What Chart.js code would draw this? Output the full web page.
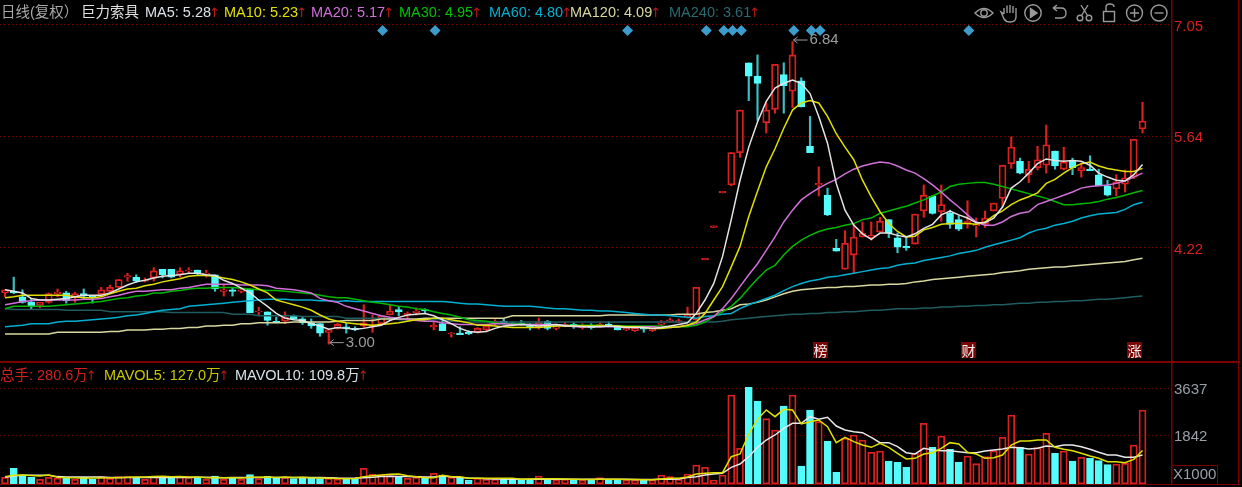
<!DOCTYPE html>
<html>
<head>
<meta charset="utf-8">
<script src="https://cdn.jsdelivr.net/npm/chart.js@4"></script>
<style>
  html, body { margin: 0; padding: 0; background: #000; }
  #wrap { position: relative; width: 1242px; height: 487px; overflow: hidden; background: #000; }
  canvas { position: absolute; left: 0; top: 0; }
  .t { position: absolute; white-space: nowrap; font: 14.5px/18px "Liberation Sans", "Noto Sans CJK SC", sans-serif; }
  .t i { font: 13px/18px "DejaVu Sans"; color: #c01818; margin-left: -2px; }
  .tag { position: absolute; top: 342px; width: 15px; height: 16px; background: #7a0606; color: #eee; text-align: center; font: 14px/16px "Noto Sans CJK SC", sans-serif; }
  .rule { position: absolute; background: #7c0000; }
  #tools { position: absolute; left: 970px; top: 2px; }
</style>
</head>
<body>
<div id="wrap">
  <canvas id="kline" width="1242" height="487"></canvas>

  <div class="rule" style="left:0;top:361px;width:1240px;height:2px"></div>
  <div class="rule" style="left:0;top:484px;width:1240px;height:1px"></div>
  <div class="rule" style="left:1238px;top:0;width:1px;height:485px"></div>

  <span class="t" style="left:1px;top:3px;color:#a8a8a8">日线(复权）</span>
  <span class="t" style="left:81px;top:3px;color:#e0e0e0">巨力索具</span>
  <span class="t" style="left:145px;top:3px;color:#d8e0e8">MA5: 5.28<i>↑</i></span>
  <span class="t" style="left:224px;top:3px;color:#e0e000">MA10: 5.23<i>↑</i></span>
  <span class="t" style="left:311px;top:3px;color:#d070d8">MA20: 5.17<i>↑</i></span>
  <span class="t" style="left:399px;top:3px;color:#00c000">MA30: 4.95<i>↑</i></span>
  <span class="t" style="left:489px;top:3px;color:#00b0d0">MA60: 4.80<i>↑</i></span>
  <span class="t" style="left:570px;top:3px;color:#d8d8a0">MA120: 4.09<i>↑</i></span>
  <span class="t" style="left:669px;top:3px;color:#2a6a70">MA240: 3.61<i>↑</i></span>

  <span class="t" style="left:0;top:366px;color:#d02020">总手: 280.6万<i>↑</i></span>
  <span class="t" style="left:104px;top:366px;color:#c8c800">MAVOL5: 127.0万<i>↑</i></span>
  <span class="t" style="left:235px;top:366px;color:#d8e0e8">MAVOL10: 109.8万<i>↑</i></span>

  <span class="tag" style="left:813px">榜</span>
  <span class="tag" style="left:961px">财</span>
  <span class="tag" style="left:1127px">涨</span>

  <div style="position:absolute;left:1172px;top:465px;width:45px;height:18px;border:1px solid #7c0000;border-left:0"></div>
  <span class="t" style="left:1173px;top:465px;color:#98a0a8;font-size:15px">X1000</span>

  <svg id="tools" width="200" height="24" fill="none" stroke="#9a9a9a" stroke-width="1.4">
    <!-- eye -->
    <path d="M5 11 Q14 2 23 11 Q14 20 5 11Z"/><circle cx="14" cy="11" r="3.2"/>
    <!-- hand -->
    <path d="M34 12 V6 M37 11 V3.5 M40 11 V3 M43 11 V4 M46 12 V6 M34 12 L31 10 L34 17 Q36 20 40 20 Q46 20 46 15 V12"/>
    <!-- play -->
    <circle cx="63" cy="11" r="8.2"/><path d="M60.5 6.5 L67 11 L60.5 15.5Z" fill="#9a9a9a"/>
    <!-- back -->
    <path d="M83 6 L87 3 M83 6 L87 9 M83 6 H91 Q96 6 96 11 Q96 16 91 16 H85"/>
    <!-- scissors -->
    <circle cx="110" cy="16" r="2.8"/><circle cx="119" cy="16" r="2.8"/><path d="M111.5 13.5 L118 3 M117.5 13.5 L111 3"/>
    <!-- lock -->
    <rect x="133.5" y="9.5" width="11" height="10"/><path d="M136 9 V5 Q136 2 140 2 Q144 2 144 5"/>
    <!-- plus -->
    <circle cx="164.5" cy="11" r="8"/><path d="M160 11 H169 M164.5 6.5 V15.5"/>
    <!-- minus -->
    <circle cx="189" cy="11" r="8"/><path d="M184.5 11 H193.5"/>
  </svg>
</div>

<script>
// trading days, counted from the left edge of the window
var days = [];
for (var d = 0; d < 131; d++) days.push(d);

var opens = [
  3.65,3.67,3.60,3.53,3.49,3.53,3.64,3.65,3.59,3.64,
  3.61,3.63,3.67,3.72,3.85,3.85,3.80,3.84,3.95,3.95,
  3.88,3.93,3.94,3.89,3.88,3.67,3.69,3.67,3.70,3.41,
  3.41,3.29,3.29,3.36,3.32,3.27,3.26,3.15,3.20,3.22,
  3.20,3.23,3.22,3.26,3.37,3.44,3.37,3.40,3.44,3.22,
  3.26,3.13,3.14,3.15,3.15,3.18,3.26,3.29,3.27,3.27,
  3.23,3.21,3.29,3.20,3.23,3.25,3.21,3.23,3.23,3.25,
  3.24,3.18,3.17,3.21,3.17,3.25,3.29,3.28,3.34,3.31,
  4.07,4.48,4.92,5.02,5.43,6.57,6.40,5.81,5.98,6.42,
  6.21,6.34,5.51,5.02,4.89,4.22,3.95,4.13,4.36,4.35,
  4.42,4.58,4.35,4.24,4.27,4.69,4.88,4.68,4.66,4.58,
  4.54,4.50,4.52,4.69,4.85,5.29,5.32,5.15,5.24,5.27,
  5.45,5.22,5.32,5.20,5.22,5.15,5.01,4.97,5.03,5.12,
  5.73
];
var closes = [
  3.69,3.65,3.53,3.48,3.53,3.64,3.66,3.55,3.64,3.61,
  3.59,3.69,3.72,3.82,3.87,3.80,3.81,3.93,3.88,3.85,
  3.93,3.94,3.89,3.90,3.70,3.69,3.67,3.69,3.40,3.42,
  3.30,3.27,3.34,3.32,3.27,3.23,3.14,3.18,3.25,3.20,
  3.18,3.27,3.24,3.36,3.42,3.41,3.39,3.42,3.42,3.24,
  3.17,3.14,3.12,3.13,3.20,3.23,3.29,3.27,3.24,3.25,
  3.22,3.28,3.20,3.22,3.25,3.23,3.23,3.21,3.25,3.23,
  3.18,3.20,3.20,3.19,3.20,3.27,3.31,3.30,3.37,3.72,
  4.09,4.50,4.94,5.43,5.97,6.40,6.31,5.97,6.55,6.28,
  6.67,6.01,5.43,5.04,4.64,4.18,4.28,4.36,4.41,4.38,
  4.56,4.41,4.23,4.22,4.65,4.89,4.66,4.77,4.52,4.46,
  4.56,4.52,4.60,4.79,5.27,5.50,5.17,5.22,5.34,5.53,
  5.26,5.31,5.24,5.24,5.20,5.01,4.89,5.06,5.11,5.60,
  5.83
];
var highs = [
  3.69,3.85,3.69,3.58,3.53,3.65,3.70,3.67,3.66,3.70,
  3.61,3.72,3.75,3.82,3.90,3.88,3.84,3.97,3.95,3.95,
  3.97,3.97,3.94,3.94,3.88,3.75,3.72,3.71,3.70,3.47,
  3.41,3.34,3.41,3.37,3.34,3.32,3.26,3.18,3.27,3.27,
  3.22,3.50,3.37,3.36,3.50,3.47,3.41,3.46,3.45,3.28,
  3.30,3.15,3.22,3.17,3.21,3.23,3.31,3.32,3.28,3.30,
  3.26,3.33,3.30,3.24,3.28,3.27,3.26,3.26,3.27,3.28,
  3.24,3.23,3.21,3.22,3.21,3.30,3.33,3.32,3.47,3.72,
  4.09,4.50,4.94,5.43,5.97,6.57,6.67,6.06,6.55,6.57,
  6.84,6.38,5.89,5.25,4.98,4.33,4.44,4.52,4.55,4.55,
  4.61,4.58,4.41,4.37,4.65,5.02,4.88,5.02,4.70,4.63,
  4.82,4.60,4.69,4.79,5.27,5.63,5.36,5.32,5.51,5.78,
  5.45,5.50,5.36,5.30,5.39,5.22,5.08,5.15,5.21,5.60,
  6.07
];
var lows = [
  3.60,3.64,3.52,3.44,3.46,3.52,3.60,3.52,3.53,3.58,
  3.52,3.60,3.65,3.72,3.80,3.78,3.79,3.80,3.84,3.84,
  3.85,3.90,3.88,3.85,3.67,3.61,3.61,3.65,3.40,3.36,
  3.24,3.27,3.26,3.31,3.25,3.20,3.10,3.00,3.19,3.14,
  3.17,3.21,3.15,3.26,3.37,3.36,3.33,3.37,3.40,3.18,
  3.17,3.09,3.12,3.12,3.14,3.17,3.24,3.26,3.23,3.24,
  3.18,3.19,3.18,3.18,3.22,3.20,3.19,3.19,3.22,3.22,
  3.18,3.17,3.16,3.15,3.16,3.23,3.28,3.27,3.33,3.30,
  4.07,4.48,4.92,5.01,5.37,6.09,5.84,5.68,5.93,5.93,
  6.00,6.01,5.43,4.88,4.63,4.18,3.95,3.90,4.36,4.32,
  4.42,4.35,4.16,4.19,4.27,4.61,4.65,4.56,4.47,4.44,
  4.47,4.36,4.48,4.69,4.74,5.23,5.16,5.05,5.21,5.17,
  5.22,5.21,5.15,5.12,5.20,5.01,4.88,4.88,4.93,5.10,
  5.68
];

var ma5 = [
  3.69,3.67,3.65,3.58,3.56,3.56,3.57,3.58,3.60,3.62,
  3.62,3.62,3.65,3.70,3.75,3.79,3.81,3.84,3.86,3.87,
  3.88,3.90,3.90,3.88,3.87,3.81,3.77,3.71,3.65,3.56,
  3.48,3.39,3.33,3.31,3.30,3.26,3.23,3.19,3.21,3.20,
  3.19,3.20,3.22,3.24,3.30,3.34,3.37,3.38,3.39,3.36,
  3.31,3.26,3.20,3.16,3.15,3.16,3.20,3.23,3.24,3.25,
  3.24,3.23,3.24,3.25,3.23,3.23,3.22,3.22,3.22,3.23,
  3.22,3.21,3.21,3.21,3.20,3.21,3.23,3.25,3.27,3.39,
  3.56,3.77,4.11,4.58,5.08,5.50,5.82,6.08,6.25,6.31,
  6.35,6.31,6.18,5.89,5.55,5.04,4.70,4.51,4.40,4.33,
  4.41,4.41,4.38,4.36,4.40,4.47,4.52,4.64,4.69,4.64,
  4.60,4.54,4.54,4.60,4.74,4.98,5.06,5.17,5.29,5.35,
  5.33,5.32,5.33,5.32,5.27,5.17,5.12,5.08,5.07,5.15,
  5.28
];
var ma10 = [
  3.59,3.60,3.62,3.62,3.62,3.62,3.62,3.62,3.60,3.59,
  3.59,3.60,3.64,3.67,3.70,3.71,3.74,3.76,3.79,3.81,
  3.83,3.86,3.87,3.87,3.86,3.84,3.82,3.79,3.75,3.70,
  3.65,3.56,3.53,3.50,3.47,3.43,3.37,3.32,3.29,3.27,
  3.26,3.25,3.24,3.25,3.26,3.27,3.29,3.31,3.31,3.33,
  3.33,3.31,3.29,3.27,3.24,3.24,3.23,3.22,3.21,3.21,
  3.21,3.21,3.22,3.23,3.23,3.23,3.23,3.23,3.23,3.23,
  3.23,3.22,3.22,3.21,3.20,3.20,3.21,3.22,3.24,3.28,
  3.39,3.56,3.73,3.98,4.24,4.62,4.94,5.25,5.48,5.74,
  5.97,6.06,6.09,6.06,5.89,5.67,5.50,5.34,5.08,4.87,
  4.68,4.53,4.43,4.36,4.37,4.45,4.48,4.52,4.53,4.53,
  4.53,4.52,4.55,4.63,4.69,4.77,4.83,4.87,4.92,5.04,
  5.09,5.17,5.24,5.29,5.31,5.26,5.23,5.21,5.19,5.19,
  5.23
];
var ma20 = [
  3.50,3.52,3.54,3.55,3.56,3.56,3.56,3.56,3.56,3.57,
  3.57,3.58,3.60,3.62,3.65,3.67,3.67,3.68,3.69,3.69,
  3.71,3.72,3.74,3.76,3.76,3.76,3.76,3.75,3.75,3.75,
  3.74,3.71,3.70,3.69,3.67,3.65,3.58,3.55,3.53,3.48,
  3.45,3.42,3.39,3.36,3.34,3.33,3.31,3.30,3.29,3.29,
  3.27,3.26,3.25,3.25,3.25,3.25,3.26,3.26,3.25,3.25,
  3.25,3.25,3.25,3.25,3.24,3.22,3.22,3.22,3.22,3.22,
  3.22,3.22,3.22,3.22,3.22,3.21,3.21,3.22,3.24,3.26,
  3.31,3.35,3.45,3.58,3.73,3.88,4.02,4.19,4.36,4.55,
  4.70,4.83,4.91,4.98,5.04,5.09,5.16,5.22,5.26,5.29,
  5.31,5.30,5.26,5.21,5.17,5.10,5.02,4.93,4.83,4.74,
  4.64,4.55,4.51,4.51,4.55,4.62,4.66,4.68,4.77,4.81,
  4.85,4.89,4.93,4.98,5.00,5.01,5.02,5.04,5.07,5.12,
  5.17
];
var ma30 = [
  3.45,3.48,3.48,3.48,3.48,3.48,3.49,3.50,3.51,3.52,
  3.53,3.54,3.56,3.58,3.59,3.61,3.62,3.65,3.65,3.67,
  3.68,3.70,3.71,3.71,3.72,3.72,3.72,3.71,3.70,3.69,
  3.68,3.68,3.67,3.66,3.65,3.64,3.62,3.60,3.59,3.59,
  3.57,3.55,3.53,3.52,3.50,3.48,3.47,3.45,3.44,3.41,
  3.39,3.37,3.34,3.31,3.30,3.29,3.27,3.26,3.26,3.26,
  3.25,3.25,3.25,3.24,3.24,3.24,3.24,3.24,3.24,3.23,
  3.23,3.23,3.23,3.23,3.23,3.23,3.22,3.22,3.22,3.24,
  3.28,3.35,3.41,3.48,3.58,3.71,3.83,3.94,4.00,4.13,
  4.24,4.32,4.38,4.43,4.46,4.48,4.51,4.53,4.58,4.60,
  4.66,4.69,4.72,4.75,4.79,4.83,4.88,4.93,5.00,5.03,
  5.04,5.05,5.05,5.03,5.00,4.97,4.94,4.91,4.88,4.85,
  4.81,4.77,4.77,4.78,4.79,4.81,4.84,4.86,4.89,4.92,
  4.95
];
var ma60 = [
  3.22,3.23,3.24,3.26,3.26,3.26,3.28,3.29,3.29,3.30,
  3.31,3.32,3.33,3.34,3.36,3.37,3.39,3.41,3.43,3.44,
  3.45,3.48,3.49,3.50,3.51,3.52,3.53,3.54,3.55,3.56,
  3.57,3.57,3.57,3.56,3.56,3.56,3.55,3.55,3.54,3.55,
  3.54,3.54,3.54,3.54,3.54,3.54,3.54,3.54,3.54,3.54,
  3.54,3.53,3.52,3.51,3.51,3.50,3.49,3.48,3.48,3.48,
  3.48,3.47,3.46,3.45,3.45,3.44,3.43,3.43,3.42,3.42,
  3.41,3.40,3.39,3.38,3.37,3.37,3.36,3.35,3.34,3.33,
  3.35,3.36,3.38,3.39,3.45,3.50,3.54,3.58,3.62,3.68,
  3.73,3.77,3.80,3.82,3.85,3.86,3.88,3.90,3.92,3.94,
  3.96,3.97,4.00,4.02,4.03,4.06,4.08,4.10,4.12,4.15,
  4.17,4.19,4.23,4.26,4.29,4.32,4.35,4.41,4.45,4.47,
  4.51,4.53,4.56,4.60,4.63,4.65,4.66,4.67,4.71,4.77,
  4.80
];
var ma120 = [
  3.13,3.13,3.13,3.13,3.13,3.13,3.15,3.15,3.15,3.15,
  3.15,3.15,3.16,3.16,3.18,3.18,3.18,3.19,3.19,3.20,
  3.20,3.21,3.21,3.23,3.23,3.24,3.24,3.26,3.26,3.27,
  3.27,3.27,3.27,3.28,3.28,3.28,3.28,3.28,3.29,3.30,
  3.30,3.30,3.30,3.32,3.32,3.32,3.32,3.32,3.33,3.33,
  3.33,3.33,3.33,3.33,3.33,3.33,3.33,3.33,3.36,3.36,
  3.36,3.36,3.36,3.36,3.36,3.36,3.36,3.36,3.36,3.37,
  3.37,3.37,3.37,3.37,3.37,3.37,3.37,3.38,3.38,3.38,
  3.40,3.41,3.43,3.45,3.50,3.51,3.53,3.56,3.60,3.64,
  3.67,3.69,3.70,3.71,3.72,3.72,3.73,3.73,3.74,3.75,
  3.75,3.76,3.76,3.77,3.79,3.80,3.82,3.83,3.84,3.85,
  3.86,3.87,3.88,3.89,3.91,3.92,3.93,3.95,3.96,3.97,
  3.98,3.98,3.99,4.00,4.01,4.02,4.03,4.04,4.05,4.07,
  4.09
];
var ma240 = [
  3.45,3.44,3.44,3.44,3.44,3.44,3.44,3.43,3.43,3.43,
  3.43,3.43,3.41,3.41,3.41,3.41,3.41,3.41,3.41,3.40,
  3.40,3.40,3.40,3.40,3.40,3.40,3.38,3.38,3.38,3.36,
  3.36,3.36,3.36,3.36,3.35,3.35,3.35,3.35,3.35,3.33,
  3.33,3.33,3.33,3.33,3.33,3.31,3.31,3.31,3.31,3.31,
  3.31,3.29,3.29,3.28,3.28,3.28,3.28,3.28,3.28,3.28,
  3.28,3.28,3.28,3.28,3.28,3.28,3.28,3.28,3.28,3.28,
  3.28,3.28,3.28,3.28,3.28,3.28,3.28,3.28,3.28,3.28,
  3.28,3.28,3.29,3.31,3.32,3.33,3.34,3.35,3.36,3.37,
  3.38,3.38,3.39,3.39,3.40,3.40,3.41,3.41,3.42,3.43,
  3.43,3.44,3.45,3.45,3.45,3.46,3.46,3.47,3.47,3.48,
  3.48,3.49,3.49,3.50,3.50,3.51,3.52,3.52,3.53,3.53,
  3.54,3.54,3.55,3.55,3.56,3.57,3.57,3.58,3.59,3.60,
  3.61
];

// volume in X1000 lots
var vols = [
  253,595,342,253,177,253,228,228,177,253,
  177,278,215,278,278,253,177,304,253,240,
  278,253,253,177,304,177,228,177,354,202,
  291,228,253,202,228,240,202,215,190,190,
  190,595,380,342,316,253,215,253,215,405,
  342,253,215,152,215,177,177,177,177,177,
  177,304,177,152,177,152,152,177,240,177,
  177,152,152,177,152,342,278,177,380,721,
  632,152,341,3378,1354,3668,3150,2479,2049,2960,
  3378,683,2808,2366,1632,443,1733,1860,1670,1202,
  1252,873,822,632,1164,2302,1392,1822,1316,822,
  1063,772,1037,1265,1771,2619,1392,1139,1379,1923,
  1164,1252,873,1012,974,886,734,759,784,1480,
  2806
];
var mavol5 = [
  280,330,340,320,300,342,260,240,240,220,
  230,230,235,240,255,270,265,280,290,278,
  280,265,270,240,250,240,240,230,260,255,
  270,250,262,250,260,240,230,215,205,200,
  205,280,310,345,370,380,316,278,240,240,
  329,278,278,215,215,215,215,215,215,177,
  190,200,200,195,190,180,175,170,180,185,
  180,175,175,165,160,190,215,215,270,380,
  405,430,430,1037,1139,1898,2454,2808,2555,2834,
  2808,2277,2366,2429,2176,1569,1771,1607,1480,1392,
  1543,1392,1164,949,974,1139,1189,1354,1569,1518,
  1202,1139,974,999,1101,1480,1632,1632,1670,1670,
  1392,1316,1265,1164,1063,974,847,847,809,936,
  1270
];
var mavol10 = [
  260,300,330,330,330,330,280,270,270,270,
  270,265,250,245,245,245,245,245,245,250,
  250,250,253,253,250,240,245,245,245,250,
  250,250,245,245,245,245,245,240,225,220,
  225,240,260,280,290,280,280,278,270,265,
  300,275,250,228,215,200,190,190,185,185,
  185,190,185,180,180,178,178,178,180,178,
  178,178,175,175,175,180,185,190,250,278,
  342,380,405,632,759,1037,1392,1670,1860,2113,
  2302,2302,2555,2454,2530,2201,2049,1986,1948,1771,
  1569,1569,1417,1189,1139,1354,1290,1265,1265,1227,
  1189,1189,1252,1290,1328,1392,1379,1328,1354,1442,
  1417,1480,1480,1417,1316,1202,1101,1101,1012,1012,
  1098
];

var priceTicks = [7.05, 5.64, 4.22];
var volTicks = [3637, 1842];

// blue event markers along the top of the price panel
var markerX = [43.15, 49.15, 71.15, 80.15, 82.15, 83.15, 84.15, 90.15, 92.15, 93.15, 110.15];
var markerPrice = 6.98;

// labelled extremes: [day, price]
var extremes = [[90, 6.84], [37, 3.00]];

var RED = '#dc2020', CYAN = '#54fcfc', CYAN_WICK = '#38c0c4';

function isUp(i) { return closes[i] >= opens[i]; }
function upDown(a, b) { return days.map(function (i) { return isUp(i) ? a : b; }); }

function maLine(values, color, axis, width) {
    return {
        type: 'line', data: values, yAxisID: axis, borderColor: color, borderWidth: width || 1.5,
        pointRadius: 0, tension: 0, order: 1
    };
}

// arrow and number beside the highest and lowest wick
var extremeLabels = {
    id: 'extremeLabels',
    afterDatasetsDraw: function (chart) {
        var ctx = chart.ctx, xs = chart.scales.x, ys = chart.scales.y;
        ctx.save();
        ctx.strokeStyle = ctx.fillStyle = '#9c9c9c';
        ctx.lineWidth = 1;
        ctx.font = '15px "Liberation Sans"';
        ctx.textBaseline = 'middle';
        extremes.forEach(function (e) {
            var x = xs.getPixelForValue(e[0]) + 1, y = ys.getPixelForValue(e[1]) - 1.5;
            ctx.beginPath();
            ctx.moveTo(x + 14, y); ctx.lineTo(x, y);
            ctx.moveTo(x + 4, y - 3); ctx.lineTo(x, y); ctx.lineTo(x + 4, y + 3);
            ctx.stroke();
            ctx.fillText(e[1].toFixed(2), x + 16, y);
        });
        ctx.restore();
    }
};

function axisBase(ticksList, min, max, weight, tickColor, fmt) {
    return {
        type: 'linear', position: 'right', stack: 'panels', stackWeight: weight, min: min, max: max,
        afterBuildTicks: function (scale) { scale.ticks = ticksList.map(function (v) { return { value: v }; }); },
        afterFit: function (scale) {
            scale.width = 70;
            scale.paddingTop = scale.paddingBottom = 0;
        },
        border: { display: true, color: '#7c0000', width: 1.5, dash: [1, 3] },
        grid: { color: '#7c0000', lineWidth: 1, drawTicks: false },
        ticks: {
            autoSkip: false, padding: 2, labelOffset: 1.5, color: tickColor, maxRotation: 0,
            font: { family: 'Liberation Sans', size: 15 }, callback: fmt
        }
    };
}

new Chart(document.getElementById('kline').getContext('2d'), {
    data: {
        labels: days,
        datasets: [
            {
                type: 'line', yAxisID: 'y', order: 0, showLine: false, pointStyle: 'rectRot', pointRadius: 5.5,
                pointBackgroundColor: '#3c9ccc', pointBorderWidth: 0,
                data: markerX.map(function (x) { return { x: x, y: markerPrice }; })
            },
            maLine(ma5, '#e4e4e4', 'y'),
            maLine(ma10, '#e0e000', 'y'),
            maLine(ma20, '#d070d8', 'y'),
            maLine(ma30, '#00b800', 'y'),
            maLine(ma60, '#00b0d0', 'y'),
            maLine(ma120, '#d8d8a0', 'y'),
            maLine(ma240, '#205c60', 'y'),
            maLine(mavol5, '#e0e000', 'yVol'),
            maLine(mavol10, '#e8e8e8', 'yVol'),
            {
                type: 'bar', yAxisID: 'y', order: 2, grouped: false, barThickness: 7, borderSkipped: false,
                data: days.map(function (i) { return [opens[i], closes[i]]; }),
                backgroundColor: upDown('#000', CYAN),
                borderColor: upDown(RED, CYAN), borderWidth: 1.8
            },
            {
                type: 'bar', yAxisID: 'y', order: 3, grouped: false, barThickness: 1.5,
                data: days.map(function (i) { return [lows[i], highs[i]]; }),
                backgroundColor: upDown(RED, CYAN_WICK), borderWidth: 0
            },
            {
                type: 'bar', yAxisID: 'yVol', order: 2, grouped: false, barThickness: 7, borderSkipped: false,
                data: days.map(function (i) { return [0, vols[i]]; }),
                backgroundColor: upDown('#000', CYAN),
                borderColor: upDown(RED, CYAN), borderWidth: 1.8
            }
        ]
    },
    options: {
        responsive: false,
        animation: false,
        events: [],
        layout: { autoPadding: false, padding: { left: 0, top: 0, right: 0, bottom: 3 } },
        plugins: { legend: { display: false }, tooltip: { enabled: false } },
        scales: {
            x: { type: 'linear', display: false, offset: false, min: -0.571, max: 133.37 },
            y: axisBase(priceTicks, 2.786, 7.367, 361, '#d82020', function (v) { return v.toFixed(2); }),
            yVol: axisBase(volTicks, 0, 4668, 123, '#98a0a8', function (v) { return String(v); })
        }
    },
    plugins: [extremeLabels]
});
</script>
</body>
</html>
